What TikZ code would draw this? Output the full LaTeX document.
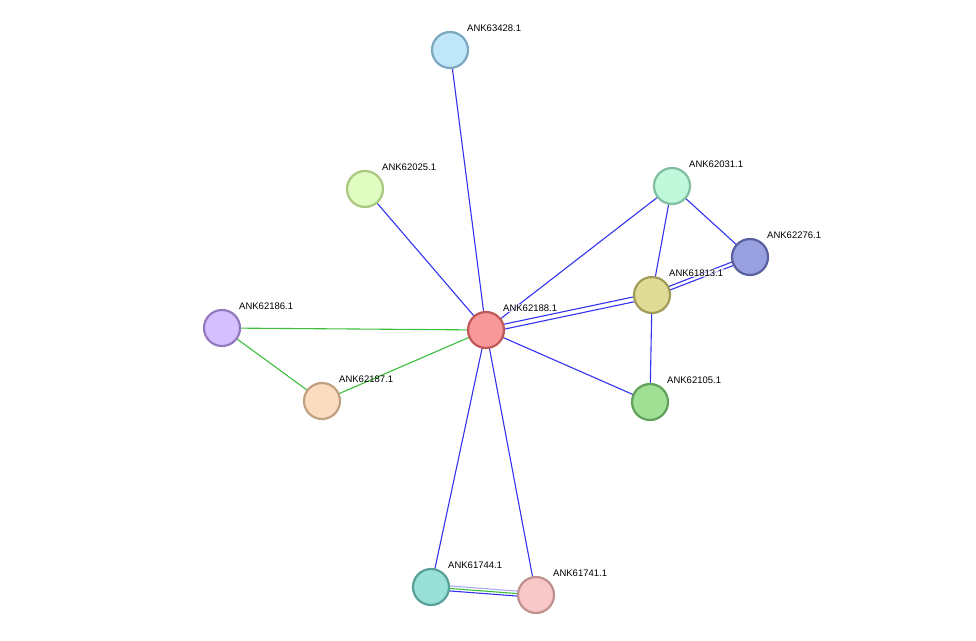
\documentclass[tikz,border=0pt]{standalone}
\usepackage{fontspec}
\setmainfont{Liberation Sans}
\begin{document}
\begin{tikzpicture}[x=1pt,y=-1pt,
  prot/.style={circle,minimum size=36pt,inner sep=0pt,line width=2.2pt},
  lab/.style={anchor=west,font=\fontsize{9.5}{11}\selectfont,inner sep=1pt},
  be/.style={draw={rgb,255:red,50;green,50;blue,240},line width=1.1pt},
  ge/.style={draw={rgb,255:red,60;green,190;blue,60},line width=1.1pt},
  le/.style={draw={rgb,255:red,170;green,170;blue,240},line width=1.1pt}]
\useasboundingbox (0,0) rectangle (976,640);
\def\P#1#2#3#4#5{\definecolor{f#1}{HTML}{#4}\definecolor{b#1}{HTML}{#5}\coordinate (#1) at (#2,#3);}
\P{a}{450}{50}{C0E6FA}{7BA7C0}
\P{b}{365}{189}{E0FCC0}{A8C880}
\P{c}{672}{186}{C0F8DC}{80C0A0}
\P{d}{750}{257}{98A0E0}{5860A0}
\P{e}{652}{295}{E0DC98}{A09C58}
\P{f}{486}{330}{F89898}{C05858}
\P{g}{222}{328}{D4C0FC}{9478C0}
\P{h}{322}{401}{FCDCC0}{C0A080}
\P{i}{650}{402}{A0E094}{60A058}
\P{j}{431}{587}{98E0D8}{58A098}
\P{k}{536}{595}{F8C8C8}{C09090}
% edges
\draw[be] (f)--(a); \draw[be] (f)--(b); \draw[be] (f)--(c);
\draw[be] (c)--(e); \draw[be] (c)--(d); \draw[be] (e)--(i);
\draw[be] (f)--(i); \draw[be] (f)--(j); \draw[be] (f)--(k);
\draw[be] ([yshift=-3]f)--([yshift=-3]e); \draw[be] ([yshift=2]f)--([yshift=2]e);
\draw[be] ([yshift=-2]e)--([yshift=-2]d); \draw[be] ([yshift=2]e)--([yshift=2]d);
\draw[ge] (g)--(f); \draw[ge] (g)--(h); \draw[ge] (h)--(f);
\draw[be] ([yshift=-2.5]j)--([yshift=-2.5]k);
\draw[ge] (j)--(k);
\draw[le] ([yshift=2.5]j)--([yshift=2.5]k);
% nodes
\foreach \n in {a,b,c,d,e,f,g,h,i,j,k}
  \node[prot,fill=f\n,draw=b\n] (N\n) at (\n) {};
\node[lab] (La) at (466,28) {ANK63428.1};
\node[lab] (Lb) at (381,167) {ANK62025.1};
\node[lab] (Lc) at (688,164) {ANK62031.1};
\node[lab] (Ld) at (766,235) {ANK62276.1};
\node[lab,fill=white,fill opacity=0.7,text opacity=1] (Le) at (668,273) {ANK61813.1};
\node[lab,fill=white,fill opacity=0.7,text opacity=1] (Lf) at (502,308) {ANK62188.1};
\node[lab] (Lg) at (238,306) {ANK62186.1};
\node[lab] (Lh) at (338,379) {ANK62187.1};
\node[lab] (Li) at (666,380) {ANK62105.1};
\node[lab] (Lj) at (447,565) {ANK61744.1};
\node[lab] (Lk) at (552,573) {ANK61741.1};
\end{tikzpicture}
\end{document}
